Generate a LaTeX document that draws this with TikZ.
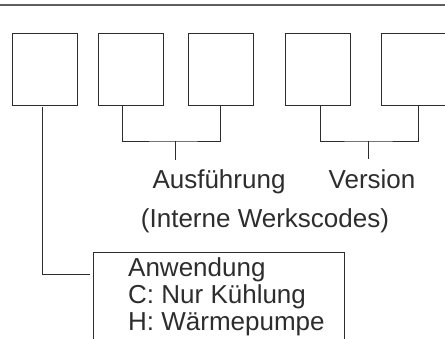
\documentclass[tikz,border=0pt]{standalone}
\usepackage{fontspec}
\setmainfont{Liberation Sans}
\usetikzlibrary{positioning}

\definecolor{inkgrey}{RGB}{45,45,45}
\definecolor{rulegrey}{RGB}{95,95,95}

\begin{document}
\begin{tikzpicture}[
    x=1pt,
    y=-1pt,
    codebox/.style={
        draw=inkgrey,
        line width=0.9pt,
        rectangle,
        minimum width=65pt,
        minimum height=72pt,
        inner sep=0pt
    },
    link/.style={
        draw=inkgrey,
        line width=0.9pt
    },
    topline/.style={
        draw=rulegrey,
        line width=1.4pt
    },
    caption/.style={
        font=\fontsize{26}{27}\selectfont,
        text=inkgrey,
        inner sep=0pt,
        anchor=base
    },
    framebox/.style={
        draw=inkgrey,
        line width=0.9pt,
        rectangle,
        anchor=north west,
        minimum width=251pt,
        minimum height=100pt,
        inner sep=0pt
    },
    frametext/.style={
        font=\fontsize{26}{27}\selectfont,
        text=inkgrey,
        align=left,
        anchor=north west,
        inner sep=0pt
    }
]
\useasboundingbox (0,0) rectangle (445,338);

% ============================================================
% Header rule
% ============================================================
\draw[topline] (0,5) -- (445,5);

% ============================================================
% Code positions
% ============================================================
\node[codebox] (code-app)  at (44.5,69) {};
\node[codebox] (code-ausA) at (130.5,69) {};
\node[codebox] (code-ausB) at (220.5,69) {};
\node[codebox] (code-verA) at (318,69) {};
\node[codebox] (code-verB) at (414,69) {};

% ============================================================
% Captions
% ============================================================
\node[caption] (ausf) at (219,188) {Ausführung};
\node[caption] (vers) at (372,188) {Version};
\node[caption] (intern) at (265,227) {(Interne Werkscodes)};

% ------------------------------------------------------------
% Application box
% ------------------------------------------------------------
\node[framebox] (app) at (93,252) {};
\node[frametext] (app-text) at ([xshift=35pt,yshift=-5pt]app.north west)
    {Anwendung\\C: Nur Kühlung\\H: Wärmepumpe};

% ============================================================
% Connectors
% ============================================================
\coordinate (ausf-join) at (175,141);
\coordinate (ausf-end)  at (175,160);
\coordinate (vers-join) at (368,141);
\coordinate (vers-end)  at (368,159);
\coordinate (app-in)    at (93,274);

% Ausführung bracket
\draw[link] ([xshift=-8.5pt]code-ausA.south) |- (ausf-join)
    -| (code-ausB.south);
\draw[link] (ausf-join) -- (ausf-end);

% Version bracket
\draw[link] ([xshift=2pt]code-verA.south) |- (vers-join)
    -| ([xshift=4.5pt]code-verB.south);
\draw[link] (vers-join) -- (vers-end);

% Application lead
\draw[link, shorten >=3pt] ([xshift=-2.5pt,yshift=-2pt]code-app.south)
    |- (app-in);

\end{tikzpicture}
\end{document}
